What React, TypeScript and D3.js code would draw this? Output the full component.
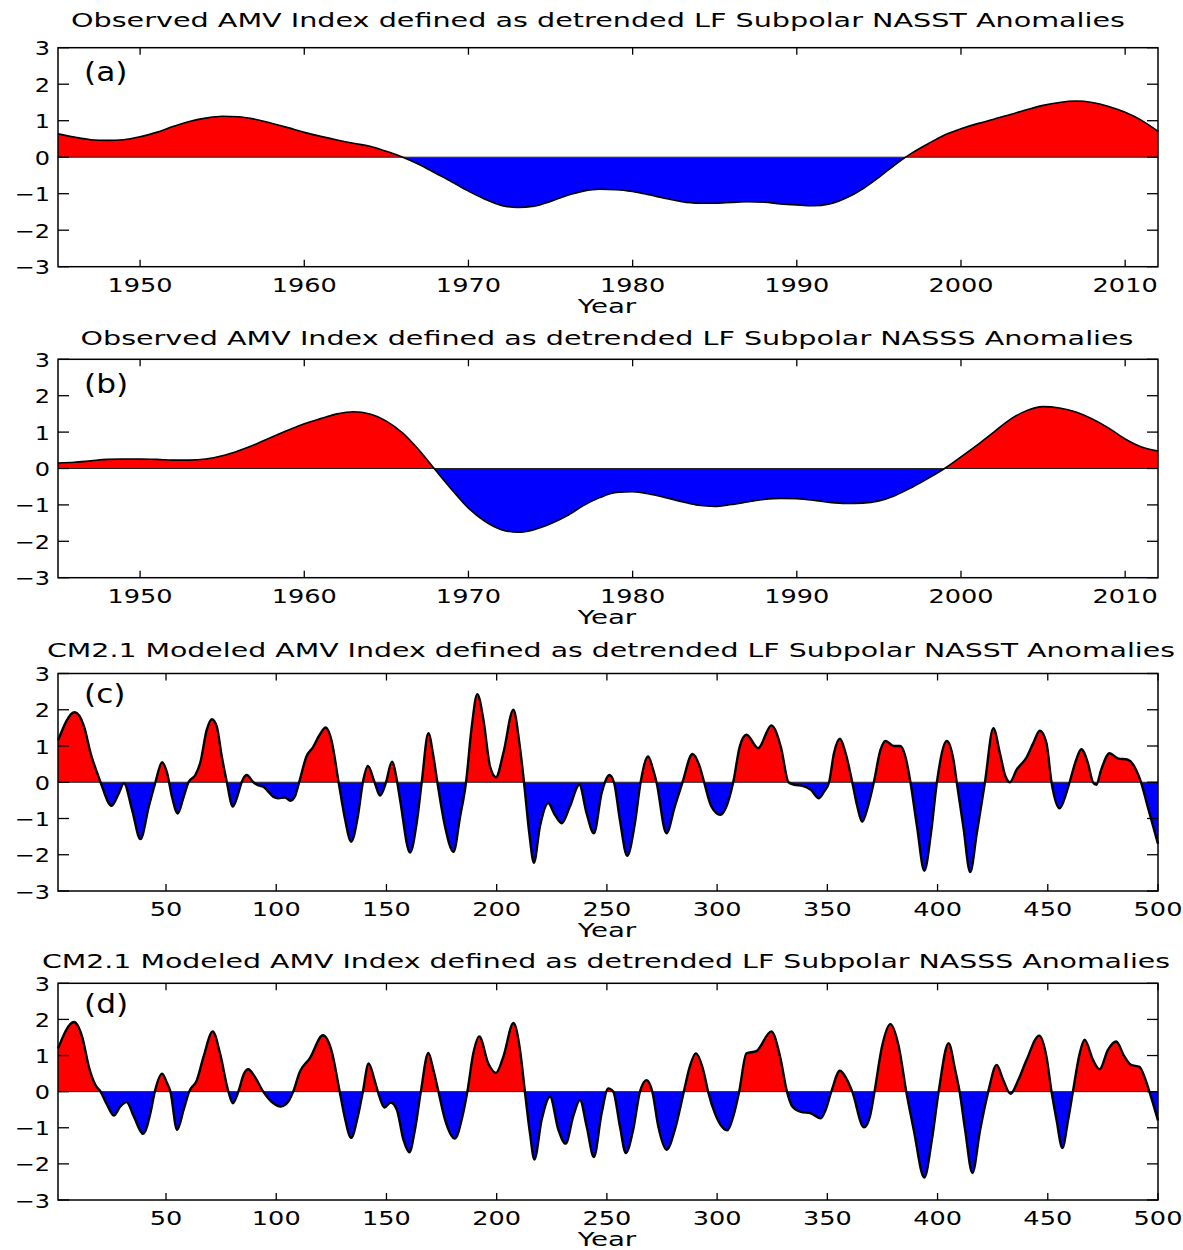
import * as d3 from "d3";

// observed years (panels a, b)
const obsYears = d3.range(1945, 2013);

// (a) detrended LF subpolar NASST anomalies
const obsSst = [
  0.64, 0.55, 0.48, 0.46, 0.48, 0.56, 0.68, 0.84, 0.98, 1.07,
  1.12, 1.11, 1.04, 0.93, 0.81, 0.68, 0.57, 0.47, 0.38, 0.3,
  0.16, 0.0, -0.2, -0.44, -0.68, -0.93, -1.15, -1.32, -1.38, -1.34,
  -1.21, -1.05, -0.93, -0.88, -0.89, -0.94, -1.03, -1.13, -1.22, -1.26,
  -1.26, -1.24, -1.22, -1.23, -1.28, -1.31, -1.33, -1.28, -1.12, -0.87,
  -0.55, -0.2, 0.11, 0.37, 0.61, 0.78, 0.92, 1.04, 1.17, 1.3,
  1.42, 1.5, 1.54, 1.5, 1.39, 1.23, 1.01, 0.71,
];

// (b) detrended LF subpolar NASSS anomalies
const obsSss = [
  0.15, 0.17, 0.21, 0.25, 0.26, 0.26, 0.25, 0.23, 0.23, 0.26,
  0.35, 0.49, 0.66, 0.86, 1.05, 1.23, 1.37, 1.5, 1.56, 1.5,
  1.3, 0.97, 0.5, -0.05, -0.59, -1.09, -1.45, -1.68, -1.75, -1.68,
  -1.52, -1.3, -1.02, -0.8, -0.66, -0.64, -0.7, -0.8, -0.91, -1.01,
  -1.04, -0.99, -0.92, -0.85, -0.82, -0.83, -0.87, -0.93, -0.96, -0.95,
  -0.89, -0.74, -0.52, -0.27, 0.0, 0.32, 0.65, 1.0, 1.35, 1.59,
  1.7, 1.66, 1.55, 1.36, 1.11, 0.81, 0.59, 0.48,
];

// (c) CM2.1 modeled NASST, [model year, value] read at peaks, troughs and crossings
const cm21Sst: [number, number][] = [
  [1, 1.15], [8.6, 1.93], [12.8, 1.54], [15.8, 0.8], [18.8, 0.25], [20.3, 0], [25.3, -0.65],
  [28.6, -0.3], [30.9, -0.03], [34.6, -0.76], [38.4, -1.57], [42.2, -0.67], [45.2, 0],
  [48.2, 0.55], [50.5, 0.25], [52.7, -0.4], [55.3, -0.86], [58, -0.4], [60.2, 0], [63.3, 0.2],
  [65.5, 0.53], [68.5, 1.45], [70.8, 1.74], [73, 1.54], [75.3, 0.71], [77.6, 0], [80.3, -0.67],
  [82.8, -0.3], [84.3, 0], [86.6, 0.2], [89.6, 0], [91.9, -0.09], [94.1, -0.12], [96.4, -0.26],
  [98.6, -0.4], [100.9, -0.44], [103.9, -0.42], [106.5, -0.51], [108.4, -0.4], [110.4, 0],
  [113.7, 0.71], [116.7, 0.97], [119.7, 1.31], [122.4, 1.51], [125, 1.17], [128.3, 0],
  [131, -0.95], [134, -1.64], [137, -0.95], [139.3, 0], [141.6, 0.45], [144.6, 0],
  [147.1, -0.37], [149.8, 0], [152.5, 0.57], [154.7, 0.06], [156.2, -0.49], [160.7, -1.94],
  [163.7, -1.13], [166, 0], [169, 1.35], [171.3, 0.71], [173.1, 0], [176.6, -1.23],
  [180.4, -1.92], [183.4, -0.95], [186.1, 0], [188.7, 1.54], [191.2, 2.43], [194, 1.72],
  [197, 0.43], [199.7, 0.14], [203, 0.8], [207.6, 2.0], [210.3, 1.08], [212.4, 0],
  [214.8, -1.41], [216.9, -2.22], [219.6, -1.23], [223.4, -0.58], [226.4, -0.9], [229.5, -1.13],
  [233.2, -0.67], [237.5, -0.07], [240.8, -0.86], [244.1, -1.41], [247.6, -0.3], [249.1, 0],
  [251.1, 0.2], [253.2, 0], [255.9, -1.04], [259.2, -2.03], [262.7, -1.13], [265.3, 0],
  [268.7, 0.71], [271, 0.34], [272.5, 0], [277, -1.41], [280.8, -0.67], [284.3, 0],
  [288.8, 0.78], [292.1, 0.43], [294.1, 0], [297.4, -0.67], [301.5, -0.9], [304.2, -0.67],
  [307.3, 0], [310.3, 0.99], [313.3, 1.31], [318.6, 0.94], [324.6, 1.57], [329, 0.95],
  [332.4, 0], [335, -0.07], [338.7, -0.1], [342.5, -0.21], [346.2, -0.44], [348.5, -0.26],
  [350.8, 0], [353, 0.8], [355.7, 1.2], [358.3, 0.8], [361.3, 0], [363.6, -0.67],
  [365.8, -1.09], [368.4, -0.67], [371.1, 0], [374.1, 0.89], [376.4, 1.14], [380.1, 1.0],
  [383.1, 1.0], [385.4, 0.71], [387.7, 0], [390.7, -1.23], [394, -2.44], [397, -1.41],
  [399.7, 0], [404.2, 1.14], [407.2, 0.62], [408.7, 0], [411.7, -1.23], [414.8, -2.48],
  [417.8, -1.41], [421.5, 0], [425.3, 1.49], [428.3, 0.8], [430.6, 0.2], [432.8, 0],
  [435.8, 0.34], [440.4, 0.69], [443.4, 1.08], [446.4, 1.42], [449.4, 1.08], [451.7, 0],
  [455.4, -0.72], [458.4, -0.3], [459.9, 0], [462.9, 0.62], [465.2, 0.91], [468.2, 0.53],
  [470.5, 0], [472, -0.07], [474.2, 0.34], [478, 0.8], [481.8, 0.66], [486.3, 0.62],
  [490.1, 0.34], [492.3, 0], [495.3, -0.67], [500, -1.7],
];

// (d) CM2.1 modeled NASSS
const cm21Sss: [number, number][] = [
  [1, 1.19], [8.3, 1.93], [12, 1.51], [15, 0.69], [18, 0.18], [20.3, 0], [23.3, -0.37],
  [26.3, -0.66], [29.3, -0.41], [32.1, -0.29], [35.4, -0.69], [39.6, -1.17], [42.9, -0.6],
  [44.9, 0], [48.2, 0.5], [50.5, 0.23], [52, 0], [55, -1.06], [58, -0.5], [60.5, 0],
  [64, 0.32], [67, 0.96], [71.2, 1.67], [74.5, 1.06], [78.3, 0], [80.3, -0.32], [82.8, 0],
  [85.4, 0.5], [87.3, 0.62], [90.3, 0.41], [94.1, 0], [97.9, -0.28], [102.1, -0.41],
  [105.4, -0.28], [107.7, 0], [110.7, 0.55], [115.2, 0.92], [121.2, 1.56], [125, 1.15],
  [128.8, 0], [131, -0.69], [134, -1.28], [137, -0.69], [139.3, 0], [141.9, 0.78],
  [144.6, 0.32], [146.1, 0], [149.1, -0.44], [151.9, -0.3], [154.7, -0.5], [157.7, -1.33],
  [160.4, -1.68], [162.9, -1.06], [165.6, 0], [169, 1.07], [171.3, 0.6], [173.6, 0],
  [176.6, -0.78], [181.1, -1.3], [184.1, -0.78], [186.7, 0], [189.4, 1.06], [192.1, 1.53],
  [196.2, 0.78], [199.7, 0.52], [203, 0.96], [207.6, 1.9], [210.6, 1.15], [212.8, 0],
  [215.1, -1.15], [217.1, -1.88], [220.4, -0.78], [224.2, -0.14], [228, -1.06], [231.3, -1.44],
  [234.7, -0.69], [237.8, -0.23], [240.8, -0.96], [244.1, -1.81], [247.6, -0.6], [250.6, 0.09],
  [252.9, 0], [255.9, -0.96], [258.6, -1.7], [261.9, -1.06], [265, 0], [268, 0.32],
  [270.6, 0], [273.3, -0.96], [277.1, -1.61], [280.8, -1.06], [284.9, 0], [287.6, 0.69],
  [290.3, 1.06], [293.7, 0.6], [295.9, 0], [299, -0.6], [304.7, -1.07], [307.3, -0.69],
  [310, 0], [313.3, 1.06], [317.8, 1.12], [324.6, 1.67], [328.6, 0.96], [331.7, 0],
  [334.2, -0.42], [338, -0.56], [342.5, -0.6], [347, -0.74], [349.2, -0.51], [351.8, 0],
  [355.7, 0.58], [359, 0.32], [361.3, 0], [366.6, -0.99], [369.3, -0.69], [371.4, 0],
  [374.8, 1.25], [378.6, 1.87], [382.4, 1.25], [385.8, 0], [389.2, -1.06], [394, -2.38],
  [397.4, -1.34], [400.5, 0], [405, 1.34], [408, 0.6], [410, 0], [412.5, -1.06],
  [415.8, -2.25], [419.3, -1.06], [423, 0], [426.8, 0.74], [429.8, 0.32], [433.1, -0.06],
  [436.6, 0.32], [440.4, 0.88], [446.1, 1.55], [449.4, 0.97], [451.7, 0], [454, -0.79],
  [456.6, -1.56], [459.2, -0.79], [461.4, 0], [464.5, 1.06], [466.7, 1.44], [470.5, 0.88],
  [473.5, 0.62], [477.3, 1.16], [481, 1.39], [484.8, 0.97], [487.8, 0.74], [491.6, 0.69],
  [493.8, 0.42], [496.1, 0], [500, -0.8],
];

const obsTicks = [1950, 1960, 1970, 1980, 1990, 2000, 2010];
const modelTicks = [50, 100, 150, 200, 250, 300, 350, 400, 450, 500];
const yTicks = [-3, -2, -1, 0, 1, 2, 3];

const titles = [
  "Observed AMV Index defined as detrended LF Subpolar NASST Anomalies",
  "Observed AMV Index defined as detrended LF Subpolar NASSS Anomalies",
  "CM2.1 Modeled AMV Index defined as detrended LF Subpolar NASST Anomalies",
  "CM2.1 Modeled AMV Index defined as detrended LF Subpolar NASSS Anomalies",
];
const panelLabels = ["(a)", "(b)", "(c)", "(d)"];

const FONT = "DejaVu Sans";
const left = 58;
const right = 1158;

// stretched text, the original figure is squeezed wide
const WText = ({ x, y, sx = 1.28, size = 20, anchor = "middle", children }: any) => (
  <text
    transform={`translate(${x},${y}) scale(${sx},1)`}
    fontSize={size}
    fontFamily={FONT}
    textAnchor={anchor}
    fill="#000"
  >
    {children}
  </text>
);

const Panel = ({ idx, top, bottom, titleY, titleX, titleW, labelY, points, xDomain, ticks, lineW }: any) => {
  const x = d3.scaleLinear().domain(xDomain).range([left, right]);
  const y = d3.scaleLinear().domain([-3, 3]).range([bottom, top]);
  const zero = y(0);

  const line = d3
    .line<[number, number]>()
    .x((d) => x(d[0]))
    .y((d) => y(d[1]))
    .curve(d3.curveMonotoneX);
  const area = d3
    .area<[number, number]>()
    .x((d) => x(d[0]))
    .y0(zero)
    .y1((d) => y(d[1]))
    .curve(d3.curveMonotoneX);

  const up = `clip-up-${idx}`;
  const dn = `clip-dn-${idx}`;
  const fmt = (v: number) => (v < 0 ? "\u2212" + Math.abs(v) : String(v));

  return (
    <g>
      <defs>
        <clipPath id={up}>
          <rect x={left} y={top} width={right - left} height={zero - top} />
        </clipPath>
        <clipPath id={dn}>
          <rect x={left} y={zero} width={right - left} height={bottom - zero} />
        </clipPath>
      </defs>

      <text
        x={titleX}
        y={titleY}
        fontSize={20}
        fontFamily={FONT}
        textAnchor="middle"
        textLength={titleW}
        lengthAdjust="spacingAndGlyphs"
      >
        {titles[idx]}
      </text>

      <path d={area(points) ?? ""} fill="#ff0000" clipPath={`url(#${up})`} />
      <path d={area(points) ?? ""} fill="#0000ff" clipPath={`url(#${dn})`} />
      <line x1={left} x2={right} y1={zero} y2={zero} stroke="#222" strokeWidth={1} />
      <path d={line(points) ?? ""} fill="none" stroke="#000" strokeWidth={lineW} strokeLinejoin="round" />

      {/* frame + inward ticks */}
      <rect x={left} y={top} width={right - left} height={bottom - top} fill="none" stroke="#000" strokeWidth={1.5} />
      {yTicks.map((t) => (
        <g key={"y" + t}>
          <line x1={left} x2={left + 11} y1={y(t)} y2={y(t)} stroke="#000" strokeWidth={1.3} />
          <line x1={right - 11} x2={right} y1={y(t)} y2={y(t)} stroke="#000" strokeWidth={1.3} />
          <WText x={50} y={y(t) + 7.5} anchor="end" sx={1.2}>
            {fmt(t)}
          </WText>
        </g>
      ))}
      {ticks.map((t: number) => (
        <g key={"x" + t}>
          <line x1={x(t)} x2={x(t)} y1={top} y2={top + 7} stroke="#000" strokeWidth={1.3} />
          <line x1={x(t)} x2={x(t)} y1={bottom - 7} y2={bottom} stroke="#000" strokeWidth={1.3} />
          <WText x={x(t)} y={bottom + 25}>
            {t}
          </WText>
        </g>
      ))}
      <WText x={607} y={bottom + 46} sx={1.38}>
        Year
      </WText>
      <WText x={84} y={labelY} anchor="start" size={26} sx={1.2}>
        {panelLabels[idx]}
      </WText>
    </g>
  );
};

export default function App() {
  const obsA = obsYears.map((yr, i) => [yr, obsSst[i]] as [number, number]);
  const obsB = obsYears.map((yr, i) => [yr, obsSss[i]] as [number, number]);

  const panels = [
    { top: 47.7, bottom: 266.7, titleY: 27, titleX: 598, titleW: 1054, labelY: 81, points: obsA, xDomain: [1945, 2012], ticks: obsTicks, lineW: 1.6 },
    { top: 359.3, bottom: 577.7, titleY: 345, titleX: 607, titleW: 1053, labelY: 393, points: obsB, xDomain: [1945, 2012], ticks: obsTicks, lineW: 1.6 },
    { top: 673.5, bottom: 891, titleY: 657, titleX: 611, titleW: 1128, labelY: 703, points: cm21Sst, xDomain: [1, 500], ticks: modelTicks, lineW: 2.4 },
    { top: 983.3, bottom: 1200, titleY: 968, titleX: 606, titleW: 1128, labelY: 1013, points: cm21Sss, xDomain: [1, 500], ticks: modelTicks, lineW: 2.4 },
  ];

  return (
    <svg
      width={1183}
      height={1250}
      style={{ position: "absolute", left: 0, top: 0, background: "#fff" }}
    >
      {panels.map((p, i) => (
        <Panel key={i} idx={i} {...p} />
      ))}
    </svg>
  );
}
